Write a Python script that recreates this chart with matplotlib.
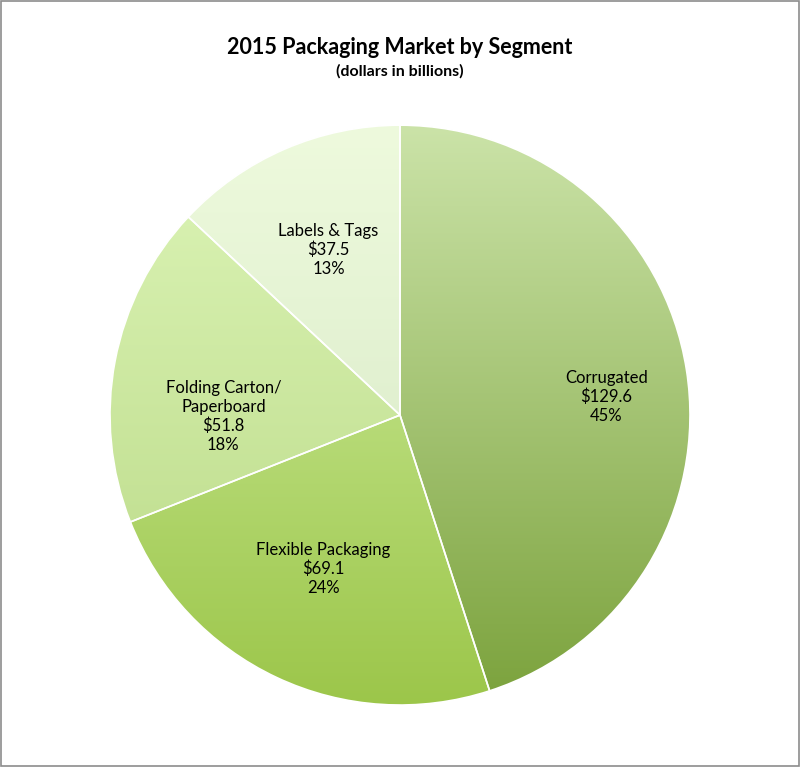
import numpy as np
import matplotlib
matplotlib.use('Agg')
import matplotlib.pyplot as plt
from matplotlib.colors import LinearSegmentedColormap

segments = ["Corrugated", "Flexible Packaging", "Folding Carton/\nPaperboard", "Labels & Tags"]
values = [129.6, 69.1, 51.8, 37.5]
# top / bottom colours of each wedge's gradient
grad_colors = [("#cbe3a8", "#7ba23c"), ("#d3f0a6", "#9cc64a"),
               ("#ddf5b8", "#b8d884"), ("#eefadd", "#d3e6c2")]
label_r = [0.72, 0.62, 0.62, 0.62]
label_shift = [-0.05, 0.03, -0.12, 0.0]   # small vertical nudge of the label block

plt.rcParams['font.family'] = ['Lato', 'DejaVu Sans']
fig = plt.figure(figsize=(8, 7.67), dpi=100)
fig.patches.append(plt.Rectangle((0.001, 0.001), 0.998, 0.998, transform=fig.transFigure,
                                 fill=False, edgecolor="#8c8c8c", linewidth=1.2))

ax = fig.add_axes([0.1375, 0.0808, 0.725, 0.756])
wedges, _ = ax.pie(values, startangle=90, counterclock=False,
                   wedgeprops=dict(edgecolor="white", linewidth=1.2, facecolor="none"))
ax.set_xlim(-1, 1)
ax.set_ylim(-1, 1)
ax.set_aspect('equal')
ax.axis('off')

total = sum(values)
grad = np.linspace(1, 0, 256).reshape(-1, 1)
for w, (top, bot), name, v, r, dy in zip(wedges, grad_colors, segments, values, label_r, label_shift):
    cmap = LinearSegmentedColormap.from_list("g", [bot, top])
    im = ax.imshow(grad, extent=(-1, 1, -1, 1), cmap=cmap, aspect='auto',
                   origin='upper', vmin=0, vmax=1, zorder=0)
    im.set_clip_path(w)
    w.set_zorder(1)
    mid = np.deg2rad((w.theta1 + w.theta2) / 2)
    ax.text(r * np.cos(mid), r * np.sin(mid) + dy,
            f"{name}\n${v:.1f}\n{v / total * 100:.0f}%",
            ha='center', va='center', fontsize=12, linespacing=1.2, zorder=3)

fig.text(0.5, 0.938, "2015 Packaging Market by Segment", ha='center', va='center',
         fontsize=15.5, fontweight='bold')
fig.text(0.5, 0.907, "(dollars in billions)", ha='center', va='center',
         fontsize=11.5, fontweight='bold')

fig.savefig("out.png", dpi=100)
